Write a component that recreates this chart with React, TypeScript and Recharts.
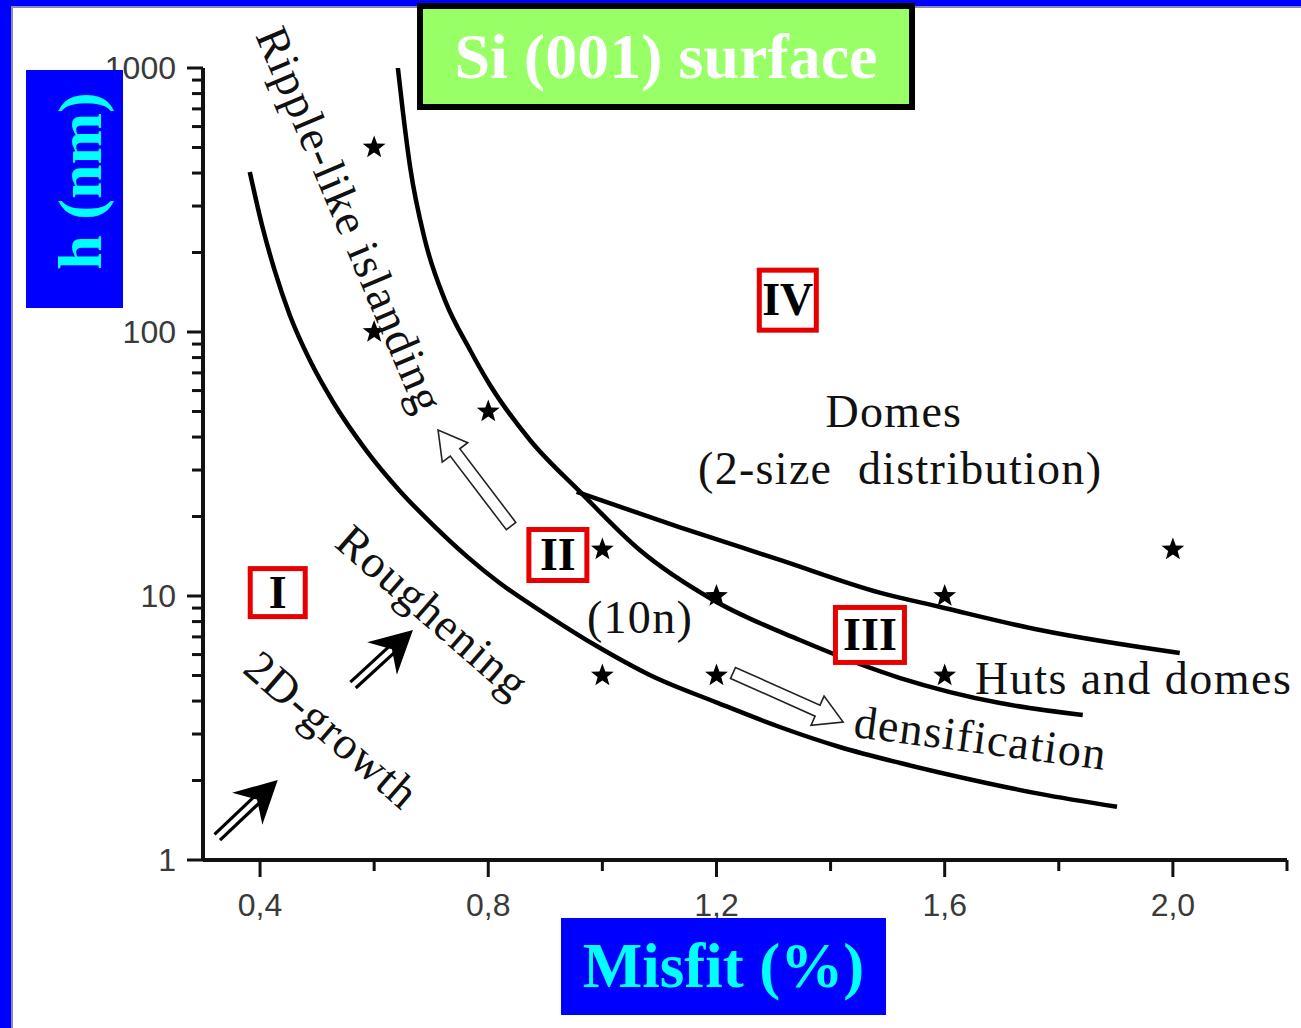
import React from "react";
import {
  ComposedChart,
  Line,
  Scatter,
  XAxis,
  YAxis,
  ReferenceDot,
  ReferenceLine,
} from "recharts";

// misfit (%) vs critical thickness h (nm)
const roughLine = [
  { m: 0.382, h: 404 },
  { m: 0.403, h: 256 },
  { m: 0.426, h: 170 },
  { m: 0.452, h: 116 },
  { m: 0.488, h: 77.6 },
  { m: 0.528, h: 54.3 },
  { m: 0.587, h: 35.4 },
  { m: 0.645, h: 25 },
  { m: 0.703, h: 18.6 },
  { m: 0.763, h: 14.1 },
  { m: 0.82, h: 11.2 },
  { m: 0.903, h: 8.47 },
  { m: 0.996, h: 6.35 },
  { m: 1.083, h: 5.02 },
  { m: 1.203, h: 3.93 },
  { m: 1.311, h: 3.19 },
  { m: 1.416, h: 2.68 },
  { m: 1.522, h: 2.33 },
  { m: 1.649, h: 2.01 },
  { m: 1.767, h: 1.78 },
  { m: 1.902, h: 1.59 },
];

const rippleLine = [
  { m: 0.64, h: 1072 },
  { m: 0.65, h: 693 },
  { m: 0.663, h: 422 },
  { m: 0.689, h: 223 },
  { m: 0.724, h: 132 },
  { m: 0.768, h: 85.5 },
  { m: 0.803, h: 63 },
  { m: 0.873, h: 39 },
  { m: 0.961, h: 24.8 },
  { m: 1.066, h: 14.9 },
  { m: 1.194, h: 9.66 },
  { m: 1.346, h: 6.81 },
  { m: 1.522, h: 4.89 },
  { m: 1.697, h: 3.93 },
  { m: 1.842, h: 3.54 },
];

const domeLine = [
  { m: 0.955, h: 24.8 },
  { m: 1.136, h: 18.2 },
  { m: 1.311, h: 13.7 },
  { m: 1.486, h: 10.3 },
  { m: 1.592, h: 9.09 },
  { m: 1.767, h: 7.43 },
  { m: 2.012, h: 6.08 },
];

const stars = [
  { m: 0.6, h: 500 },
  { m: 0.6, h: 100 },
  { m: 0.8, h: 50 },
  { m: 1.0, h: 15 },
  { m: 1.2, h: 10 },
  { m: 1.0, h: 5 },
  { m: 1.2, h: 5 },
  { m: 1.6, h: 10 },
  { m: 1.6, h: 5 },
  { m: 2.0, h: 15 },
];

const xTicks = [0.4, 0.6, 0.8, 1.0, 1.2, 1.4, 1.6, 1.8, 2.0, 2.2];
const xLabels = [0.4, 0.8, 1.2, 1.6, 2.0];
const yTicks = [
  1, 2, 3, 4, 5, 6, 7, 8, 9, 10, 20, 30, 40, 50, 60, 70, 80, 90, 100, 200,
  300, 400, 500, 600, 700, 800, 900, 1000,
];
const yLabels = [1, 10, 100, 1000];

// annotations, placed in data coordinates
const notes = [
  { text: "Ripple-like islanding", m: 0.558, h: 266, rot: 67 },
  { text: "Roughening", m: 0.703, h: 8.7, rot: 41 },
  { text: "2D-growth", m: 0.526, h: 3.11, rot: 41 },
  { text: "Domes", m: 1.511, h: 50.2, rot: 0 },
  { text: "(2-size  distribution)", m: 1.522, h: 30.5, rot: 0 },
  { text: "(10n)", m: 1.066, h: 8.32, rot: 0 },
  { text: "densification", m: 1.663, h: 2.9, rot: 7.5 },
];
const hutsNote = { text: "Huts and domes", m: 1.653, h: 4.85 };

const regions = [
  { label: "I", m: 0.431, h: 10.3, w: 55, hgt: 48 },
  { label: "II", m: 0.922, h: 14.3, w: 58, hgt: 51 },
  { label: "III", m: 1.469, h: 7.12, w: 69, hgt: 55 },
  { label: "IV", m: 1.325, h: 132, w: 57, hgt: 60 },
];

const solidArrows = [
  { from: [0.325, 1.22], to: [0.431, 2.01] },
  { from: [0.563, 4.6], to: [0.668, 7.43] },
];
const hollowArrows = [
  { from: [0.84, 18.4], to: [0.712, 42.5] },
  { from: [1.229, 5.11], to: [1.422, 3.33] },
];

const SERIF = "'Liberation Serif', 'Times New Roman', serif";
const SANS = "'Liberation Sans', Arial, sans-serif";

function starPath(cx: number, cy: number, R: number, r: number) {
  let d = "";
  for (let i = 0; i < 10; i++) {
    const a = -Math.PI / 2 + (i * Math.PI) / 5;
    const rad = i % 2 === 0 ? R : r;
    d += (i === 0 ? "M" : "L") + (cx + rad * Math.cos(a)) + "," + (cy + rad * Math.sin(a));
  }
  return d + "Z";
}

const StarShape = (props: any) => <path d={starPath(props.cx, props.cy, 12, 5)} fill="#000" />;

function YTick(props: any) {
  const { x, y, payload } = props;
  const major = yLabels.includes(payload.value);
  const len = major ? 16 : 11;
  return (
    <g>
      <line x1={x - len} x2={x} y1={y} y2={y} stroke="#111" strokeWidth={3} />
      {major && (
        <text x={x - len - 11} y={y} textAnchor="end" dominantBaseline="central" fontFamily={SANS} fontSize={32} fill="#3a3a3a">
          {payload.value}
        </text>
      )}
    </g>
  );
}

function XTick(props: any) {
  const { x, y, payload } = props;
  const major = xLabels.includes(payload.value);
  const len = major ? 17 : 11;
  return (
    <g>
      <line x1={x} x2={x} y1={y} y2={y + len} stroke="#111" strokeWidth={3} />
      {major && (
        <text x={x} y={y + 56} textAnchor="middle" fontFamily={SANS} fontSize={32} fill="#3a3a3a">
          {payload.value.toFixed(1).replace(".", ",")}
        </text>
      )}
    </g>
  );
}

function SolidArrow(p: any) {
  const { x1, y1, x2, y2 } = p;
  const L = Math.hypot(x2 - x1, y2 - y1);
  const ux = (x2 - x1) / L, uy = (y2 - y1) / L;
  const nx = -uy, ny = ux;
  const hl = 42, hw = 22;
  const bx = x2 - ux * hl, by = y2 - uy * hl;
  const kx = x2 - ux * hl * 0.68, ky = y2 - uy * hl * 0.68;
  const head = `M${x2},${y2} L${bx + nx * hw},${by + ny * hw} L${kx},${ky} L${bx - nx * hw},${by - ny * hw} Z`;
  return (
    <g>
      <line x1={x1 + nx * 4} y1={y1 + ny * 4} x2={kx + nx * 4} y2={ky + ny * 4} stroke="#000" strokeWidth={3.2} />
      <line x1={x1 - nx * 4} y1={y1 - ny * 4} x2={kx - nx * 4} y2={ky - ny * 4} stroke="#000" strokeWidth={3.2} />
      <path d={head} fill="#000" />
    </g>
  );
}

function HollowArrow(p: any) {
  const { x1, y1, x2, y2 } = p;
  const L = Math.hypot(x2 - x1, y2 - y1);
  const ux = (x2 - x1) / L, uy = (y2 - y1) / L;
  const nx = -uy, ny = ux;
  const hl = 28, hw = 16, sw = 6;
  const bx = x2 - ux * hl, by = y2 - uy * hl;
  const pts = [
    [x1 + nx * sw, y1 + ny * sw],
    [bx + nx * sw, by + ny * sw],
    [bx + nx * hw, by + ny * hw],
    [x2, y2],
    [bx - nx * hw, by - ny * hw],
    [bx - nx * sw, by - ny * sw],
    [x1 - nx * sw, y1 - ny * sw],
  ];
  return <polygon points={pts.map((q) => q.join(",")).join(" ")} fill="#fff" stroke="#222" strokeWidth={1.6} />;
}

export default function App() {
  return (
    <div style={{ position: "absolute", left: 0, top: 0, width: 1301, height: 1028, background: "#fff", overflow: "hidden" }}>
      <div style={{ position: "absolute", left: 0, top: 0, width: 11, height: 1028, background: "#0000ff" }} />
      <div style={{ position: "absolute", left: 0, top: 0, width: 1301, height: 6, background: "#0000ff" }} />
      <div
        style={{
          position: "absolute", left: 11, top: 6, width: 1290, height: 1022,
          borderLeft: "2px solid #8a8ab0", borderTop: "2px solid #8a8ab0", boxSizing: "border-box",
        }}
      />
      <div style={{ position: "absolute", left: 0, top: 0 }}>
        <ComposedChart width={1301} height={1028} margin={{ top: 68, right: 14, bottom: 108, left: 83 }}>
          <XAxis
            type="number"
            dataKey="m"
            domain={[0.3, 2.2]}
            ticks={xTicks}
            interval={0}
            allowDataOverflow
            height={60}
            tickSize={0}
            tickMargin={0}
            tickLine={false}
            tick={<XTick />}
            axisLine={{ stroke: "#111", strokeWidth: 4 }}
          />
          <YAxis
            type="number"
            dataKey="h"
            scale="log"
            domain={[1, 1000]}
            ticks={yTicks}
            interval={0}
            allowDataOverflow
            width={120}
            tickSize={0}
            tickMargin={0}
            tickLine={false}
            tick={<YTick />}
            axisLine={{ stroke: "#111", strokeWidth: 4 }}
          />
          <Line data={roughLine} dataKey="h" type="monotone" stroke="#000" strokeWidth={4.5} dot={false} isAnimationActive={false} />
          <Line data={rippleLine} dataKey="h" type="monotone" stroke="#000" strokeWidth={4.5} dot={false} isAnimationActive={false} />
          <Line data={domeLine} dataKey="h" type="monotone" stroke="#000" strokeWidth={4.5} dot={false} isAnimationActive={false} />
          <Scatter data={stars} dataKey="h" shape={StarShape} isAnimationActive={false} />
          {solidArrows.map((a, i) => (
            <ReferenceLine
              key={"sa" + i}
              segment={[{ x: a.from[0], y: a.from[1] }, { x: a.to[0], y: a.to[1] }]}
              shape={(p: any) => <SolidArrow {...p} />}
            />
          ))}
          {hollowArrows.map((a, i) => (
            <ReferenceLine
              key={"ha" + i}
              segment={[{ x: a.from[0], y: a.from[1] }, { x: a.to[0], y: a.to[1] }]}
              shape={(p: any) => <HollowArrow {...p} />}
            />
          ))}
          {notes.map((n, i) => (
            <ReferenceDot
              key={"n" + i}
              x={n.m}
              y={n.h}
              r={0}
              shape={(p: any) => (
                <text
                  x={p.cx}
                  y={p.cy}
                  textAnchor="middle"
                  dominantBaseline="central"
                  transform={`rotate(${n.rot}, ${p.cx}, ${p.cy})`}
                  fontFamily={SERIF}
                  fontSize={46}
                  letterSpacing={1.3}
                  fill="#111"
                  style={{ whiteSpace: "pre" }}
                >
                  {n.text}
                </text>
              )}
            />
          ))}
          <ReferenceDot
            x={hutsNote.m}
            y={hutsNote.h}
            r={0}
            shape={(p: any) => (
              <text x={p.cx} y={p.cy} textAnchor="start" dominantBaseline="central" fontFamily={SERIF} fontSize={46} letterSpacing={1.5} fill="#111">
                {hutsNote.text}
              </text>
            )}
          />
          {regions.map((r, i) => (
            <ReferenceDot
              key={"r" + i}
              x={r.m}
              y={r.h}
              r={0}
              shape={(p: any) => (
                <g>
                  <rect x={p.cx - r.w / 2} y={p.cy - r.hgt / 2} width={r.w} height={r.hgt} fill="#fff" stroke="#e60000" strokeWidth={5} />
                  <text x={p.cx} y={p.cy + 15} textAnchor="middle" fontFamily={SERIF} fontWeight="bold" fontSize={46} fill="#000">
                    {r.label}
                  </text>
                </g>
              )}
            />
          ))}
        </ComposedChart>
      </div>
      <div
        style={{
          position: "absolute", left: 417, top: 3, width: 498, height: 107, boxSizing: "border-box",
          background: "#99ff66", border: "6px solid #000", display: "flex", alignItems: "center", justifyContent: "center",
          fontFamily: SERIF, fontWeight: "bold", fontSize: 64, color: "#fff", whiteSpace: "nowrap",
        }}
      >
        Si (001) surface
      </div>
      <div style={{ position: "absolute", left: 26, top: 70, width: 97, height: 238, background: "#0000ff" }}>
        <div
          style={{
            position: "absolute", left: 55, top: 111, transform: "translate(-50%, -50%) rotate(-90deg)",
            fontFamily: SERIF, fontWeight: "bold", fontSize: 62, color: "#00ffff", whiteSpace: "nowrap", lineHeight: 1.15,
          }}
        >
          h (nm)
        </div>
      </div>
      <div
        style={{
          position: "absolute", left: 561, top: 918, width: 325, height: 97, background: "#0000ff",
          display: "flex", alignItems: "center", justifyContent: "center",
          fontFamily: SERIF, fontWeight: "bold", fontSize: 63, color: "#00ffff", whiteSpace: "nowrap",
        }}
      >
        Misfit (%)
      </div>
    </div>
  );
}
